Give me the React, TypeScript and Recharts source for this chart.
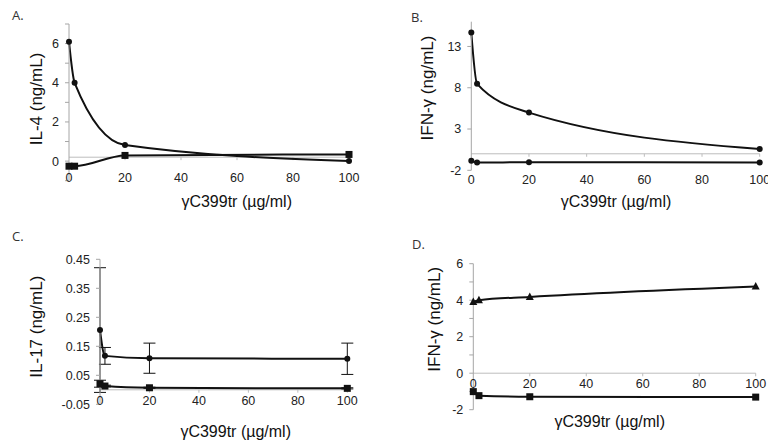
import React from "react";
import { LineChart, Line, XAxis, YAxis, ReferenceLine, ErrorBar } from "recharts";

// doses on the x axis (µg/ml)
const dose = [0, 2, 20, 100];
const doseTicks = [0, 20, 40, 60, 80, 100];

// A. IL-4
const il4Circle = [6.1, 4.0, 0.82, 0.0];
const il4Square = [-0.26, -0.26, 0.29, 0.34];
const il4Ticks = [-1, 0, 1, 2, 3, 4, 5, 6, 7];
const il4Labels = [0, 2, 4, 6];

// B. IFN-γ
const ifnUpper = [14.7, 8.47, 4.99, 0.58];
const ifnLower = [-0.83, -1.05, -1.03, -1.05];
const ifnBTicks = [-2, 3, 8, 13];

// C. IL-17 with error bars
const il17Circle = [0.206, 0.117, 0.109, 0.107];
const il17CircleErr = [0.215, 0.029, 0.052, 0.054];
const il17Square = [0.021, 0.013, 0.007, 0.005];
const il17SquareErr = [0.012, 0.003, 0.002, 0.002];
const il17Ticks = [-0.05, 0.05, 0.15, 0.25, 0.35, 0.45];

// D. IFN-γ
const ifnTri = [3.9, 4.0, 4.18, 4.75];
const ifnSq = [-1.01, -1.23, -1.29, -1.31];
const ifnDTicks = [-2, -1, 0, 1, 2, 3, 4, 5, 6];
const ifnDLabels = [-2, 0, 2, 4, 6];

const INK = "#111";
const AXIS = "#a6a6a6";
const FONT = "'Liberation Sans', Arial, sans-serif";

const circleDot = (p: any) =>
  p.cx == null ? null : <circle key={"c" + p.index} cx={p.cx} cy={p.cy} r={3} fill={INK} />;
const squareDot = (p: any) =>
  p.cx == null ? null : <rect key={"s" + p.index} x={p.cx - 3.5} y={p.cy - 3.5} width={7} height={7} fill={INK} />;
const triDot = (p: any) =>
  p.cx == null ? null : (
    <polygon
      key={"t" + p.index}
      points={`${p.cx},${p.cy - 4.5} ${p.cx - 4},${p.cy + 3} ${p.cx + 4},${p.cy + 3}`}
      fill={INK}
    />
  );

type Series = { values: number[]; err?: number[]; dot: (p: any) => any };

type PanelCfg = {
  letter: string;
  letterPos: [number, number];
  left: number;
  top: number;
  w: number;
  h: number;
  plot: { l: number; t: number; r: number; b: number };
  yDomain: [number, number];
  yTicks: number[];
  yLabels?: number[];
  yTitle: string;
  yTitlePos: [number, number];
  xTitlePos: [number, number];
  xTickDy: number;
  zero: number;
  tickLen: number;
  series: Series[];
};

const panels: PanelCfg[] = [
  {
    letter: "A.",
    letterPos: [12, 15],
    left: 0,
    top: 0,
    w: 384,
    h: 221,
    plot: { l: 69, t: 24, r: 349, b: 180.7 },
    yDomain: [-1, 7],
    yTicks: il4Ticks,
    yLabels: il4Labels,
    yTitle: "IL-4 (ng/mL)",
    yTitlePos: [36, 99],
    xTitlePos: [236.7, 201.7],
    xTickDy: -2.7,
    zero: 0.2,
    tickLen: 0.15,
    series: [
      { values: il4Circle, dot: circleDot },
      { values: il4Square, dot: squareDot },
    ],
  },
  {
    letter: "B.",
    letterPos: [27, 17],
    left: 384,
    top: 0,
    w: 384,
    h: 221,
    plot: { l: 87.3, t: 21.7, r: 375.7, b: 170.3 },
    yDomain: [-2, 16],
    yTicks: ifnBTicks,
    yTitle: "IFN-γ (ng/mL)",
    yTitlePos: [43, 88],
    xTitlePos: [232, 201.7],
    xTickDy: 9.7,
    zero: 0,
    tickLen: 0.36,
    series: [
      { values: ifnUpper, dot: circleDot },
      { values: ifnLower, dot: circleDot },
    ],
  },
  {
    letter: "C.",
    letterPos: [12, 15],
    left: 0,
    top: 221,
    w: 384,
    h: 222,
    plot: { l: 100, t: 38.3, r: 347.3, b: 183.3 },
    yDomain: [-0.05, 0.45],
    yTicks: il17Ticks,
    yTitle: "IL-17 (ng/mL)",
    yTitlePos: [36.7, 105.7],
    xTitlePos: [235.7, 210],
    xTickDy: -3.3,
    zero: 0,
    tickLen: 0.01,
    series: [
      { values: il17Circle, err: il17CircleErr, dot: circleDot },
      { values: il17Square, err: il17SquareErr, dot: squareDot },
    ],
  },
  {
    letter: "D.",
    letterPos: [28, 23],
    left: 384,
    top: 221,
    w: 384,
    h: 222,
    plot: { l: 89.3, t: 42.7, r: 371.7, b: 188.7 },
    yDomain: [-2, 6],
    yTicks: ifnDTicks,
    yLabels: ifnDLabels,
    yTitle: "IFN-γ (ng/mL)",
    yTitlePos: [50.7, 98.3],
    xTitlePos: [225.7, 200],
    xTickDy: -25.4,
    zero: 0,
    tickLen: 0.17,
    series: [
      { values: ifnTri, dot: triDot },
      { values: ifnSq, dot: squareDot },
    ],
  },
];

function Panel({ cfg }: { cfg: PanelCfg }) {
  const { plot } = cfg;
  const data = dose.map((d, i) => {
    const row: any = { dose: d };
    cfg.series.forEach((s, k) => {
      row["s" + k] = s.values[i];
      if (s.err) row["e" + k] = s.err[i];
    });
    return row;
  });

  const xTick = (p: any) => (
    <text
      x={p.x}
      y={p.y + cfg.xTickDy}
      textAnchor="middle"
      dominantBaseline="central"
      fontSize={12.5}
      fontFamily={FONT}
      fill="#222"
    >
      {p.payload.value}
    </text>
  );

  const fmtY = (v: number) => (cfg.yLabels && !cfg.yLabels.includes(v) ? "" : String(v));

  return (
    <div style={{ position: "absolute", left: cfg.left, top: cfg.top, width: cfg.w, height: cfg.h }}>
      <div
        style={{
          position: "absolute",
          left: cfg.letterPos[0],
          top: cfg.letterPos[1] - 9,
          fontFamily: "'Open Sans', sans-serif",
          fontSize: 13,
          lineHeight: "18px",
          color: "#333",
        }}
      >
        {cfg.letter}
      </div>
      <LineChart
        width={cfg.w}
        height={cfg.h}
        data={data}
        margin={{ top: plot.t, right: cfg.w - plot.r, left: 0, bottom: 0 }}
      >
        <XAxis
          type="number"
          dataKey="dose"
          domain={[0, 100]}
          ticks={doseTicks}
          interval={0}
          axisLine={false}
          tickLine={false}
          tickSize={0}
          tickMargin={0}
          height={cfg.h - plot.b}
          tick={xTick}
          label={{
            content: () => (
              <text
                x={cfg.xTitlePos[0]}
                y={cfg.xTitlePos[1]}
                textAnchor="middle"
                dominantBaseline="central"
                fontSize={16}
                fontFamily={FONT}
                fill={INK}
              >
                γC399tr (µg/ml)
              </text>
            ),
          }}
        />
        <YAxis
          type="number"
          domain={cfg.yDomain}
          ticks={cfg.yTicks}
          interval={0}
          allowDataOverflow
          width={plot.l}
          axisLine={{ stroke: AXIS }}
          tickLine={{ stroke: AXIS }}
          tickSize={4}
          tickMargin={6}
          tickFormatter={fmtY}
          tick={{ fontSize: 12.5, fontFamily: FONT, fill: "#222" }}
          label={{
            content: () => (
              <text
                x={cfg.yTitlePos[0]}
                y={cfg.yTitlePos[1]}
                transform={`rotate(-90 ${cfg.yTitlePos[0]} ${cfg.yTitlePos[1]})`}
                textAnchor="middle"
                dominantBaseline="central"
                fontSize={17}
                fontFamily={FONT}
                fill={INK}
              >
                {cfg.yTitle}
              </text>
            ),
          }}
        />
        <ReferenceLine y={cfg.zero} stroke="#bdbdbd" strokeWidth={1} />
        {doseTicks.slice(1).map((t) => (
          <ReferenceLine
            key={t}
            segment={[
              { x: t, y: cfg.zero },
              { x: t, y: cfg.zero - cfg.tickLen },
            ]}
            stroke="#bdbdbd"
          />
        ))}
        {cfg.series.map((s, k) => (
          <Line
            key={k}
            type="monotone"
            dataKey={"s" + k}
            stroke={INK}
            strokeWidth={2}
            dot={s.dot}
            activeDot={false}
            isAnimationActive={false}
          >
            {s.err && (
              <ErrorBar
                dataKey={"e" + k}
                direction="y"
                width={6}
                stroke={INK}
                strokeWidth={1}
                isAnimationActive={false}
              />
            )}
          </Line>
        ))}
      </LineChart>
    </div>
  );
}

export default function App() {
  return (
    <div style={{ position: "absolute", left: 0, top: 0, width: 768, height: 443, background: "#fff" }}>
      {panels.map((p) => (
        <Panel key={p.letter} cfg={p} />
      ))}
    </div>
  );
}
